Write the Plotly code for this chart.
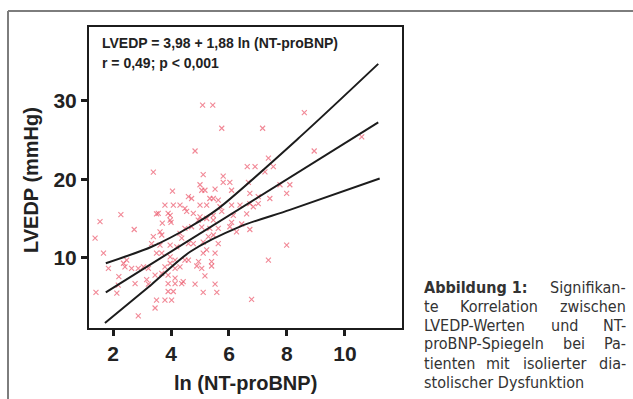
import plotly.graph_objects as go

# ---------------- data ----------------
point_x = [1.55, 2.27, 1.38, 1.67, 1.41, 2.13, 2.2, 2.41, 2.73, 3.5, 3.7, 3.97, 4.0, 3.39, 3.68,
           3.33, 3.5, 3.68, 3.97, 4.2, 4.37, 4.14, 4.31, 4.48, 2.47, 2.36, 2.64, 2.87, 3.05, 3.22,
           1.84, 2.18, 2.76, 3.16, 3.45, 3.68, 3.9, 4.14, 4.42, 3.9, 4.14, 4.37, 3.9, 4.08, 4.02,
           3.79, 3.5, 3.45, 2.87, 3.97, 3.97, 4.14, 3.79, 3.22, 4.83, 5.11, 5.52, 5.58, 5.17, 6.78,
           4.6, 4.89, 5.4, 7.36, 5.0, 5.46, 5.06, 5.34, 5.63, 6.09, 6.44, 6.61, 6.26, 6.72, 4.77,
           5.29, 5.63, 5.11, 5.52, 4.95, 5.4, 5.06, 7.99, 5.09, 5.44, 5.75, 7.16, 4.83, 6.63, 6.9,
           7.36, 7.53, 5.11, 5.8, 5.0, 5.8, 6.03, 6.09, 5.06, 5.17, 5.52, 5.34, 5.46, 5.63, 4.71,
           6.72, 6.67, 7.41, 7.99, 8.1, 7.76, 7.24, 5.0, 5.23, 5.69, 6.09, 6.38, 6.72, 7.01, 5.75,
           8.6, 8.94, 10.58, 3.39, 4.05, 4.6, 3.79, 4.08, 4.31, 4.48, 3.56, 3.9, 3.97, 4.54, 4.77,
           4.94, 5.23, 5.46, 4.71, 4.48, 4.31, 3.62, 3.62, 4.6, 5.11, 5.23, 5.46, 6.03, 6.15, 6.84,
           7.01]
point_y = [14.6, 15.5, 12.5, 10.6, 5.6, 5.5, 7.6, 8.85, 13.6, 15.6, 14.4, 15.4, 14.5, 12.7, 12.9,
           11.8, 10.6, 10.6, 11.6, 11.4, 12.5, 9.7, 8.85, 9.7, 9.7, 9.3, 8.65, 8.65, 8.85, 8.65,
           8.65, 6.5, 6.7, 7.2, 7.8, 8.0, 7.8, 7.4, 6.95, 6.7, 6.7, 6.7, 5.7, 5.7, 4.6,
           4.6, 4.6, 3.6, 2.6, 10.1, 9.3, 8.65, 8.85, 6.65, 6.65, 5.6, 6.65, 5.6, 7.7, 4.7,
           9.7, 8.95, 8.95, 9.7, 15.2, 14.8, 13.9, 13.75, 13.75, 14.5, 14.3, 15.6, 13.3, 13.6, 11.8,
           12.7, 11.8, 10.6, 10.6, 9.5, 9.5, 8.65, 11.6, 29.45, 29.45, 26.5, 26.5, 23.6, 21.6, 21.6,
           22.7, 21.6, 20.6, 20.4, 19.3, 19.6, 19.6, 18.6, 18.6, 18.6, 18.75, 17.55, 17.55, 17.35, 17.55,
           18.2, 19.6, 17.55, 18.2, 19.3, 19.3, 20.95, 16.7, 16.7, 16.5, 16.7, 16.7, 16.9, 16.9, 15.9,
           28.5, 23.6, 25.4, 20.9, 18.5, 17.8, 16.7, 16.7, 16.7, 16.3, 15.65, 15.65, 14.8, 15.9, 15.65,
           14.8, 15.0, 15.4, 13.95, 13.75, 13.1, 13.3, 11.6, 11.8, 12.0, 11.0, 12.9, 13.95, 15.4, 16.5,
           17.8]

fit_x = [1.75, 11.15]
fit_y = [5.6, 27.25]
upper_x = [1.75, 3.33, 4.66, 5.57, 8.45, 11.15]
upper_y = [9.3, 11.4, 13.95, 16.1, 25.4, 34.7]
lower_x = [1.72, 3.33, 4.66, 6.4, 8.1, 11.2]
lower_y = [1.7, 6.6, 10.76, 14.0, 16.1, 20.1]

x_ticks = [2, 4, 6, 8, 10]
y_ticks = [10, 20, 30]
x_range = [1.17, 11.97]
y_range = [1.05, 39.4]

x_title = "ln (NT-proBNP)"
y_title = "LVEDP (mmHg)"
eq_line1 = "LVEDP = 3,98 + 1,88 ln (NT-proBNP)"
eq_line2 = "r = 0,49; p < 0,001"

caption_lines = [
    ["<b>Abbildung 1:</b>", "Signifikan-"],
    ["te", "Korrelation", "zwischen"],
    ["LVEDP-Werten", "und", "NT-"],
    ["proBNP-Spiegeln", "bei", "Pa-"],
    ["tienten", "mit", "isolierter", "dia-"],
    ["stolischer Dysfunktion"],
]

# ---------------- layout geometry (pixels) ----------------
W, H = 633, 399
PL, PR, PT, PB = 89, 402, 27, 328


def fx(px):
    return (px - PL) / (PR - PL)


def fy(py):
    return (PB - py) / (PB - PT)


AX_FONT = "Liberation Sans, Arial, Helvetica, sans-serif"
CAP_FONT = "DejaVu Sans Condensed, Liberation Sans Narrow, Arial Narrow, sans-serif"
INK = "#1c1c1c"

fig = go.Figure()
fig.add_trace(go.Scatter(
    x=point_x, y=point_y, mode="markers",
    marker=dict(symbol="x-thin", size=5, line=dict(width=1.1, color="rgba(235,85,105,0.7)"),
                color="rgba(235,85,105,0.7)"),
    hoverinfo="skip", showlegend=False))
for xs, ys in ((upper_x, upper_y), (fit_x, fit_y), (lower_x, lower_y)):
    fig.add_trace(go.Scatter(x=xs, y=ys, mode="lines",
                             line=dict(color=INK, width=2, shape="spline", smoothing=0.8),
                             hoverinfo="skip", showlegend=False))

axis_common = dict(showgrid=False, zeroline=False, showline=True, linewidth=2, linecolor=INK,
                   mirror=True, ticks="outside", ticklen=6, tickwidth=3, tickcolor=INK,
                   tickfont=dict(family=AX_FONT, size=21, color="#222222", weight="bold"))
fig.update_xaxes(range=x_range, tickvals=x_ticks, ticktext=[str(v) for v in x_ticks], **axis_common)
fig.update_yaxes(range=y_range, tickvals=y_ticks, ticktext=[str(v) for v in y_ticks], **axis_common)

ann = []
ann.append(dict(text=f"<b>{x_title}</b>", x=fx(245), y=fy(383), xref="paper", yref="paper",
                showarrow=False, xanchor="center", yanchor="middle",
                font=dict(family=AX_FONT, size=20, color="#222222")))
ann.append(dict(text=f"<b>{y_title}</b>", x=fx(31), y=fy(180), xref="paper", yref="paper",
                showarrow=False, xanchor="center", yanchor="middle", textangle=-90,
                font=dict(family=AX_FONT, size=20, color="#222222")))
ann.append(dict(text=f"<b>{eq_line1}</b>", x=fx(100), y=fy(42.7), xref="paper", yref="paper",
                showarrow=False, xanchor="left", yanchor="middle",
                font=dict(family=AX_FONT, size=14, color="#222222")))
ann.append(dict(text=f"<b>{eq_line2}</b>", x=fx(100), y=fy(62.7), xref="paper", yref="paper",
                showarrow=False, xanchor="left", yanchor="middle",
                font=dict(family=AX_FONT, size=14, color="#222222")))

# caption, justified by hand: first word left, last word right, middle words spread evenly
cap_left, cap_right = 421.5, 627.5
cap_y = [287, 306, 325, 344, 363, 382]
middle_centres = {1: [499], 2: [564], 3: [573.5], 4: [498, 555]}
cf = dict(family=CAP_FONT, size=16, color="#333333")
for i, words in enumerate(caption_lines):
    yy = fy(cap_y[i])
    ann.append(dict(text=words[0], x=fx(cap_left), y=yy, xref="paper", yref="paper",
                    showarrow=False, xanchor="left", yanchor="middle", font=cf))
    if len(words) > 1:
        ann.append(dict(text=words[-1], x=fx(cap_right), y=yy, xref="paper", yref="paper",
                        showarrow=False, xanchor="right", yanchor="middle", font=cf))
    for w, c in zip(words[1:-1], middle_centres.get(i, [])):
        ann.append(dict(text=w, x=fx(c), y=yy, xref="paper", yref="paper",
                        showarrow=False, xanchor="center", yanchor="middle", font=cf))

shapes = [
    dict(type="line", xref="paper", yref="paper", x0=fx(8), x1=fx(8), y0=fy(399), y1=fy(11),
         line=dict(color="#7d7d7d", width=2)),
    dict(type="line", xref="paper", yref="paper", x0=fx(8), x1=fx(633), y0=fy(11), y1=fy(11),
         line=dict(color="#7d7d7d", width=2)),
]

fig.update_layout(width=W, height=H, margin=dict(l=PL, r=W - PR, t=PT, b=H - PB, pad=0),
                  paper_bgcolor="white", plot_bgcolor="white", annotations=ann, shapes=shapes,
                  showlegend=False)

fig.write_html("out.html", config={"displayModeBar": False},
               post_script="document.body.style.margin='0px';")
